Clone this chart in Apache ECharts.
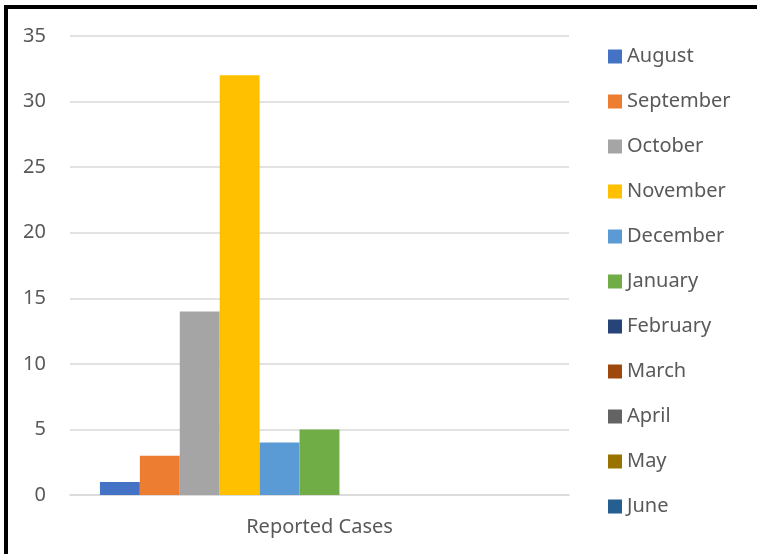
<!DOCTYPE html>
<html>
<head>
<meta charset="utf-8">
<script src="https://cdn.jsdelivr.net/npm/echarts@6/dist/echarts.min.js"></script>
<style>
    html, body { margin: 0; padding: 0; background: #fff; overflow: hidden; }
    #frame { position: absolute; left: 4px; top: 5px; width: 800px; height: 600px;
             border-top: 4px solid #000; border-left: 4px solid #000; }
    #chart { position: absolute; left: 0; top: 0; width: 757px; height: 554px; }
</style>
</head>
<body>
<div id="frame"></div>
<div id="chart"></div>
<script>
    var categories = ['Reported Cases'];
    var months = ['August', 'September', 'October', 'November', 'December', 'January',
                  'February', 'March', 'April', 'May', 'June'];
    var cases = [1, 3, 14, 32, 4, 5, 0, 0, 0, 0, 0];
    var colors = ['#4472C4', '#ED7D31', '#A5A5A5', '#FFC000', '#5B9BD5', '#70AD47',
                  '#264478', '#9E480E', '#636363', '#997300', '#255E91'];

    var chart = echarts.init(document.getElementById('chart'));
    var series = [];
    for (var i = 0; i < months.length; i++) {
        series.push({
            name: months[i],
            type: 'bar',
            data: [cases[i]],
            barGap: '0%',
            barCategoryGap: '12%',
            itemStyle: {color: colors[i]}
        });
    }
    var option = {
        animation: false,
        color: colors,
        textStyle: {fontFamily: 'Noto Sans'},
        grid: {left: 70, right: 188, top: 36, bottom: 59},
        legend: {
            orient: 'vertical',
            left: 603,
            top: 41,
            icon: 'rect',
            itemWidth: 14,
            itemHeight: 14,
            itemGap: 24,
            data: months,
            textStyle: {color: '#595959', fontSize: 20, lineHeight: 21, fontFamily: 'Noto Sans'}
        },
        xAxis: {
            type: 'category',
            data: categories,
            axisLine: {lineStyle: {color: '#D9D9D9', width: 1.5}},
            axisTick: {show: false},
            axisLabel: {color: '#595959', fontSize: 20, margin: 22, fontFamily: 'Noto Sans'}
        },
        yAxis: {
            type: 'value',
            min: 0,
            max: 35,
            interval: 5,
            axisLine: {show: false},
            axisTick: {show: false},
            axisLabel: {color: '#595959', fontSize: 20, margin: 24, fontFamily: 'Noto Sans'},
            splitLine: {lineStyle: {color: '#D9D9D9', width: 1.5}}
        },
        series: series
    };
    chart.setOption(option);
</script>
</body>
</html>
